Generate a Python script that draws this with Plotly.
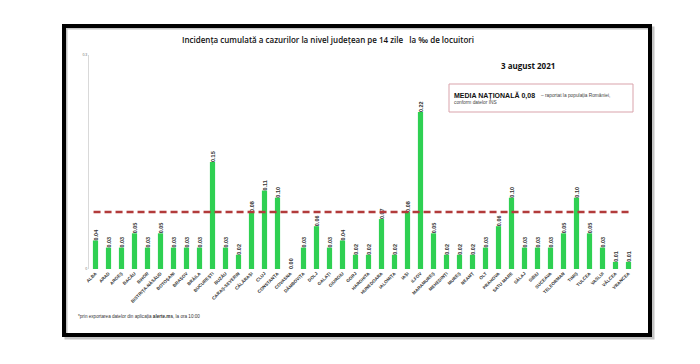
import plotly.graph_objects as go

counties = ["ALBA", "ARAD", "ARGEȘ", "BACĂU", "BIHOR", "BISTRIȚA-NĂSĂUD", "BOTOȘANI",
            "BRAȘOV", "BRĂILA", "BUCUREȘTI", "BUZĂU", "CARAȘ-SEVERIN", "CĂLĂRAȘI", "CLUJ",
            "CONSTANȚA", "COVASNA", "DÂMBOVIȚA", "DOLJ", "GALAȚI", "GIURGIU", "GORJ",
            "HARGHITA", "HUNEDOARA", "IALOMIȚA", "IAȘI", "ILFOV", "MARAMUREȘ", "MEHEDINȚI",
            "MUREȘ", "NEAMȚ", "OLT", "PRAHOVA", "SATU MARE", "SĂLAJ", "SIBIU", "SUCEAVA",
            "TELEORMAN", "TIMIȘ", "TULCEA", "VASLUI", "VÂLCEA", "VRANCEA"]
incidence = [0.04, 0.03, 0.03, 0.05, 0.03, 0.05, 0.03,
             0.03, 0.03, 0.15, 0.03, 0.02, 0.08, 0.11,
             0.10, 0.00, 0.03, 0.06, 0.03, 0.04, 0.02,
             0.02, 0.07, 0.02, 0.08, 0.22, 0.05, 0.02,
             0.02, 0.02, 0.03, 0.06, 0.10, 0.03, 0.03, 0.03,
             0.05, 0.10, 0.05, 0.03, 0.01, 0.01]
national_avg = 0.08
y_ticks = [0, 0.3]
y_tick_text = ["0", "0.3"]

W, H = 700, 364
L, R, T, B = 89, 65, 55, 95
PW, PH = W - L - R, H - T - B


def px(x):
    return (x - L) / PW


def py(y):
    return (H - B - y) / PH


fig = go.Figure()
fig.add_trace(go.Bar(
    x=counties, y=incidence,
    marker=dict(color="#2fd052", line=dict(width=0)),
    texttemplate="%{y:.2f}", textposition="outside", textangle=-90,
    textfont=dict(size=5.5, color="#333333", family="Liberation Sans", weight="bold"),
    constraintext="none", cliponaxis=False,
))

fig.add_shape(type="line", xref="x", yref="y", x0=-0.15, x1=41.3,
              y0=national_avg, y1=national_avg,
              line=dict(color="#b23b3b", width=2.5, dash="7px,4px"))

# shadow + border of slide
fig.add_shape(type="rect", xref="paper", yref="paper",
              x0=px(66), x1=px(653), y0=py(338), y1=py(28),
              line=dict(color="#c4c4c4", width=3), layer="below")
fig.add_shape(type="rect", xref="paper", yref="paper",
              x0=px(64), x1=px(650), y0=py(335), y1=py(26),
              line=dict(color="#000000", width=4))

# note box
fig.add_shape(type="rect", xref="paper", yref="paper",
              x0=px(449), x1=px(633), y0=py(112), y1=py(84),
              line=dict(color="#d9a3ab", width=1), fillcolor="white")

ann = [
    dict(text="Incidența cumulată a cazurilor la nivel județean pe 14 zile &nbsp;&nbsp;la ‰ de locuitori",
         x=px(328), y=py(39), xanchor="center", yanchor="middle",
         font=dict(size=8, color="#111111", family="Open Sans", weight=600)),
    dict(text="3 august 2021", x=px(557), y=py(65), xanchor="right", yanchor="middle",
         font=dict(size=8, color="#111111", family="Open Sans", weight="bold")),
    dict(text="MEDIA NAȚIONALĂ 0,08", x=px(452), y=py(95), xanchor="left", yanchor="middle",
         font=dict(size=7, color="#111111", family="Liberation Sans", weight="bold")),
    dict(text="– raportat la populația României,", x=px(539), y=py(95.5), xanchor="left", yanchor="middle",
         font=dict(size=4.8, color="#444444", family="Liberation Sans")),
    dict(text="conform datelor INS", x=px(452), y=py(102), xanchor="left", yanchor="middle",
         font=dict(size=4.8, color="#444444", family="Liberation Sans")),
    dict(text="*prin exportarea datelor din aplicația <b>alerte.ms</b>, la ora 10:00",
         x=px(76), y=py(316), xanchor="left", yanchor="middle",
         font=dict(size=4.6, color="#333333", family="Liberation Sans")),
]
for a in ann:
    a.update(xref="paper", yref="paper", showarrow=False)
    fig.add_annotation(**a)

fig.update_layout(
    width=W, height=H,
    margin=dict(l=L, r=R, t=T, b=B, autoexpand=False),
    paper_bgcolor="white", plot_bgcolor="white",
    bargap=0.6, showlegend=False,
    xaxis=dict(type="category", range=[-0.5, 41.5], tickangle=-45,
               tickfont=dict(size=4.5, color="#333333", family="Liberation Sans", weight="bold"),
               showline=False, showgrid=False, ticks="", ticklen=0),
    yaxis=dict(range=[0, 0.3], tickvals=y_ticks, ticktext=y_tick_text,
               tickfont=dict(size=3.5, color="#666666"),
               showline=True, linecolor="#d9d9d9", linewidth=1,
               showgrid=False, zeroline=False, ticks="", ticklen=0),
)

fig.write_html("out.html", config={"displayModeBar": False},
               post_script="document.body.style.margin='0';")
